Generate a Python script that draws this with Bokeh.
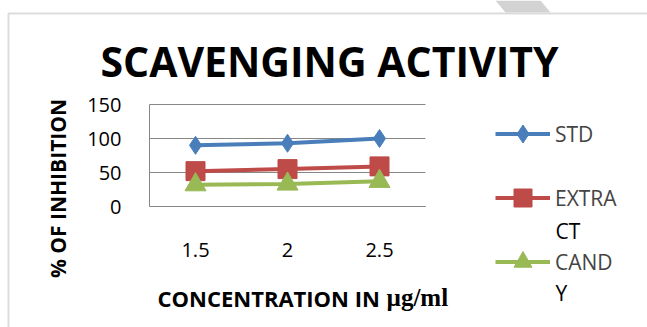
from bokeh.plotting import figure
from bokeh.models import (Range1d, FixedTicker, Label, Legend, LegendItem,
                          PolyAnnotation, LinearAxis)
from bokeh.embed import file_html
from bokeh.resources import INLINE
import math

# data
concentrations = ["1.5", "2", "2.5"]
conc_values = [1.5, 2.0, 2.5]
std_values = [90, 93, 100]
extract_values = [52, 55, 59]
candy_values = [32, 33, 37]
y_ticks = [0, 50, 100, 150]

BLUE = "#4a7ebb"
RED = "#be4b48"
GREEN = "#98b954"
GRID = "#878787"

W, H = 647, 327
# the plot frame fills the page; the chart area sits inside it
X_LO, X_HI = 1.25, 2.75          # category band edges
Y_LO, Y_HI = 0, 150
AREA_L, AREA_R, AREA_T, AREA_B = 149, 425, 104, 206

x_per_px = (X_HI - X_LO) / (AREA_R - AREA_L)
y_per_px = (Y_HI - Y_LO) / (AREA_B - AREA_T)
x_start = X_LO - AREA_L * x_per_px
y_start = Y_LO - (H - AREA_B) * y_per_px

p = figure(width=W, height=H, output_backend="svg", toolbar_location=None,
           x_range=Range1d(x_start, x_start + W * x_per_px),
           y_range=Range1d(y_start, y_start + H * y_per_px),
           x_axis_location=None, y_axis_location=None,
           min_border=0)
p.outline_line_color = None
p.background_fill_color = "white"
p.border_fill_color = "white"
p.grid.grid_line_color = None

# horizontal gridlines across the chart area
p.segment(x0=[X_LO] * len(y_ticks), x1=[X_HI] * len(y_ticks),
          y0=y_ticks, y1=y_ticks, line_color=GRID, line_width=1)

# axes pinned to the chart area
yax = LinearAxis(fixed_location=X_LO, bounds=(Y_LO, Y_HI),
                 ticker=FixedTicker(ticks=y_ticks))
yax.major_tick_in = 0
yax.major_tick_out = 0
yax.minor_tick_line_color = None
yax.axis_line_color = GRID
yax.major_label_standoff = 28
yax.major_label_text_font = "Open Sans"
yax.major_label_text_font_size = "20px"
yax.major_label_text_color = "black"
p.add_layout(yax, "left")

xax = LinearAxis(fixed_location=Y_LO, bounds=(X_LO, X_HI),
                 ticker=FixedTicker(ticks=conc_values),
                 major_label_overrides=dict(zip(conc_values, concentrations)))
xax.major_tick_in = 0
xax.major_tick_out = 0
xax.minor_tick_line_color = None
xax.axis_line_color = GRID
xax.major_label_standoff = 36
xax.major_label_text_font = "Open Sans"
xax.major_label_text_font_size = "20px"
xax.major_label_text_color = "black"
p.add_layout(xax, "below")

# series
series = [
    ("STD", std_values, BLUE, "diamond", 18),
    ("EXTRA", extract_values, RED, "square", 19),
    ("CAND", candy_values, GREEN, "triangle", 21),
]
items = []
for name, vals, color, marker, size in series:
    ln = p.line(conc_values, vals, line_color=color, line_width=4)
    sc = p.scatter(conc_values, vals, marker=marker, size=size,
                   fill_color=color, line_color=color)
    items.append(LegendItem(label=name, renderers=[ln, sc]))

legend = Legend(items=items, location=(495, H - 284),
                glyph_width=55, glyph_height=45, label_height=20,
                spacing=19, padding=0, margin=0, label_standoff=5,
                border_line_color=None, background_fill_alpha=0,
                label_text_font="Open Sans", label_text_font_size="21px")
p.add_layout(legend, "center")


def label(text, x, y, size, bold=False, font="Open Sans", align="left",
          angle=0.0):
    # (x, y) is the text baseline point in page pixels from the top-left
    lift = 0.37 * size
    bx = x - lift * math.sin(angle)
    by = y - lift * math.cos(angle)
    p.add_layout(Label(x=bx, y=H - by, x_units="screen", y_units="screen",
                       text=text, text_font=font, text_font_size=f"{size}px",
                       text_font_style="bold" if bold else "normal",
                       text_align=align, text_baseline="alphabetic",
                       angle=angle, text_color="black"))


# wrapped legend text
label("CT", 555, 238, 21)
label("Y", 555, 300, 21)

# titles
label("SCAVENGING ACTIVITY", 329, 76, 41, bold=True, align="center")
label("CONCENTRATION IN", 157, 306, 22, bold=True)
label("\u00b5g/ml", 386, 306, 25, bold=True, font="Liberation Serif")
label("% OF INHIBITION", 65, 188, 21, bold=True, align="center",
      angle=math.pi / 2)

# chart border and corner decoration
p.add_layout(PolyAnnotation(xs=[8, 8, 700, 700],
                            ys=[H - 400, H - 13, H - 13, H - 400],
                            xs_units="screen", ys_units="screen",
                            fill_alpha=0, line_color="#8c8c8c", line_width=2))
p.add_layout(PolyAnnotation(xs=[495, 540, 550, 505],
                            ys=[H - 0, H - 0, H - 12, H - 12],
                            xs_units="screen", ys_units="screen",
                            fill_color="#d3d3d3", fill_alpha=1,
                            line_color=None))

open("out.html", "w").write(file_html(p, INLINE))
